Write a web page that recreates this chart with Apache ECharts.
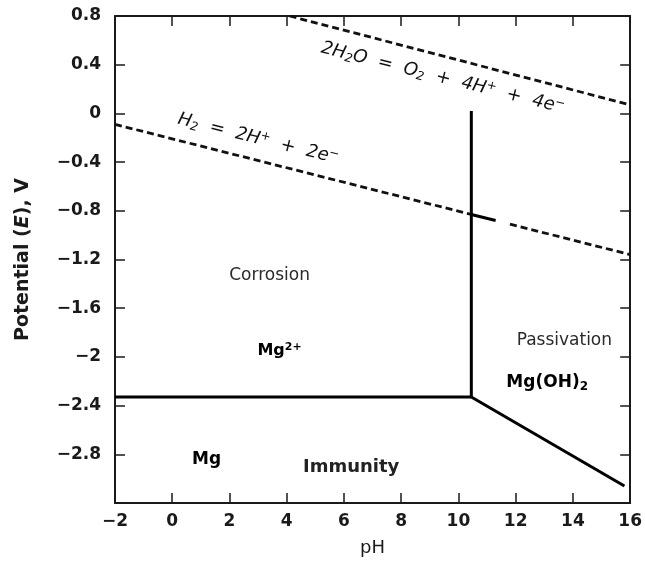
<!DOCTYPE html>
<html>
<head>
<meta charset="utf-8">
<script src="https://cdn.jsdelivr.net/npm/echarts@6/dist/echarts.min.js"></script>
<style>
html,body{margin:0;padding:0;background:#fff;}
#chart{width:645px;height:563px;}
</style>
</head>
<body>
<div id="chart"></div>
<script>
// pH axis
const xMin = -2, xMax = 16, xStep = 2;
// Potential axis
const yMin = -3.2, yMax = 0.8, yStep = 0.4;

// Boundary lines [pH, E]
const h2LineA = [[-2, -0.09], [10.45, -0.83]];
const h2LineMark = [[10.45, -0.83], [11.3, -0.88]];
const h2LineB = [[11.8, -0.91], [16, -1.16]];
const o2Line = [[4.1, 0.8], [16, 0.07]];
const verticalBoundary = [[10.45, 0.02], [10.45, -2.33]];
const horizontalBoundary = [[-2, -2.33], [10.45, -2.33]];
const diagonalBoundary = [[10.45, -2.33], [15.8, -3.06]];

// Region / equation labels [pH, E]
const labelNames = [
  '2H{sub|2}O  =  O{sub|2}  +  4H{sup|+}  +  4e{sup|\u2212}',
  'H{sub|2}  =  2H{sup|+}  +  2e{sup|\u2212}',
  'Corrosion', 'Mg{sup|2+}', 'Passivation', 'Mg(OH){sub|2}', 'Mg', 'Immunity'
];
const labelPos = [[9.45, 0.29], [3.0, -0.21], [3.4, -1.33], [3.75, -1.95], [13.7, -1.87], [13.1, -2.21], [1.2, -2.84], [6.25, -2.91]];
const labelRotate = [-14, -14, 0, 0, 0, 0, 0, 0];
const labelBold = [false, false, false, true, false, true, true, true];
const labelItalic = [true, true, false, false, false, false, false, false];
const labelSize = [18, 18, 17, 16, 17, 17, 17, 18];
const labelColor = ['#111', '#111', '#2a2a2a', '#000', '#2a2a2a', '#000', '#000', '#222'];

const FONT = '"DejaVu Sans", "Liberation Sans", Arial, sans-serif';
const INK = '#1a1a1a';

function fmtY(v) {
  const r = Math.round(v * 10) / 10;
  if (Math.abs(r - yMin) < 1e-6) return '';
  if (r < 0) return '\u2212' + Math.abs(r);
  return String(r);
}
function fmtX(v) {
  const r = Math.round(v);
  return r < 0 ? '\u2212' + Math.abs(r) : String(r);
}

const axisLine = { show: true, onZero: false, lineStyle: { color: INK, width: 2 } };
const axisTick = { show: true, inside: true, length: 10, lineStyle: { color: INK, width: 1.5 } };

function richFor(size, bold, italic, color) {
  const base = {
    fontFamily: FONT, color: color, fontSize: size,
    fontWeight: bold ? 'bold' : 'normal', fontStyle: italic ? 'italic' : 'normal'
  };
  const small = Math.round(size * 0.68);
  return {
    n: base,
    sub: Object.assign({}, base, { fontSize: small, padding: [8, 0, 0, 0] }),
    sup: Object.assign({}, base, { fontSize: small, padding: [0, 0, 8, 0] })
  };
}

const labelData = labelNames.map((n, i) => ({
  name: n,
  value: labelPos[i],
  label: {
    rotate: labelRotate[i],
    fontWeight: labelBold[i] ? 'bold' : 'normal',
    fontStyle: labelItalic[i] ? 'italic' : 'normal',
    fontSize: labelSize[i],
    color: labelColor[i],
    opacity: 1,
    rich: richFor(labelSize[i], labelBold[i], labelItalic[i], labelColor[i])
  }
}));

function lineSeries(data, dashed) {
  return {
    type: 'line',
    data: data,
    symbol: 'none',
    silent: true,
    xAxisIndex: 0, yAxisIndex: 0,
    lineStyle: dashed
      ? { color: '#111', width: 2.8, type: [7, 4] }
      : { color: '#000', width: 3 },
    z: 3
  };
}

const chart = echarts.init(document.getElementById('chart'), null, { renderer: 'canvas' });
chart.setOption({
  animation: false,
  backgroundColor: '#fff',
  grid: { left: 115, right: 14, top: 16, bottom: 60 },
  xAxis: [
    {
      type: 'value', min: xMin, max: xMax, interval: xStep, position: 'bottom',
      name: 'pH', nameLocation: 'middle', nameGap: 36,
      nameTextStyle: { fontFamily: FONT, fontSize: 18, color: INK },
      axisLine: axisLine, axisTick: axisTick,
      axisLabel: { formatter: fmtX, fontFamily: FONT, fontSize: 17, fontWeight: 'bold', color: INK, margin: 10 },
      splitLine: { show: false }
    },
    {
      type: 'value', min: xMin, max: xMax, interval: xStep, position: 'top',
      axisLine: axisLine, axisTick: axisTick, axisLabel: { show: false }, splitLine: { show: false }
    }
  ],
  yAxis: [
    {
      type: 'value', min: yMin, max: yMax, interval: yStep, position: 'left',
      name: 'Potential ({i|E}), V', nameLocation: 'middle', nameGap: 82, nameRotate: 90,
      nameTextStyle: { fontFamily: FONT, fontSize: 19, color: INK, fontWeight: 'bold',
        rich: { i: { fontFamily: FONT, fontSize: 19, fontStyle: 'italic', fontWeight: 'bold', color: INK } } },
      axisLine: axisLine, axisTick: axisTick,
      axisLabel: { formatter: fmtY, fontFamily: FONT, fontSize: 17, fontWeight: 'bold', color: INK, margin: 14 },
      splitLine: { show: false }
    },
    {
      type: 'value', min: yMin, max: yMax, interval: yStep, position: 'right',
      axisLine: axisLine, axisTick: axisTick, axisLabel: { show: false }, splitLine: { show: false }
    }
  ],
  series: [
    lineSeries(h2LineA, true),
    lineSeries(h2LineMark, false),
    lineSeries(h2LineB, true),
    lineSeries(o2Line, true),
    lineSeries(verticalBoundary, false),
    lineSeries(horizontalBoundary, false),
    lineSeries(diagonalBoundary, false),
    {
      type: 'scatter',
      symbolSize: 0,
      silent: true,
      itemStyle: { opacity: 1 },
      data: labelData,
      label: {
        show: true, position: 'inside', formatter: p => p.name,
        fontFamily: FONT, color: INK
      },
      z: 5
    }
  ]
});
</script>
</body>
</html>
